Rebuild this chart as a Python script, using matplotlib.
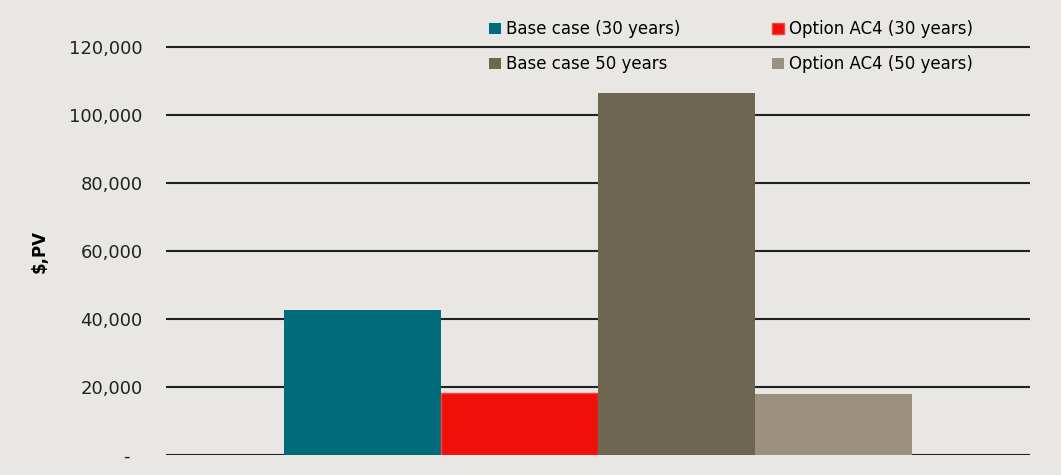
import matplotlib.pyplot as plt
from matplotlib.ticker import FuncFormatter

plt.rcParams['font.family'] = ['DejaVu Sans']

series = ['Base case (30 years)', 'Option AC4 (30 years)',
          'Base case 50 years', 'Option AC4 (50 years)']
values = [42600, 18200, 106500, 17900]
colors = ['#006B7A', '#F0100A', '#6E6650', '#9C917E']
edges = ['#006B7A', '#FF4040', '#6E6650', '#9C917E']

bg = '#E8E7E3'
fig = plt.figure(figsize=(10.61, 4.75), dpi=100, facecolor=bg)
ax = fig.add_axes([166 / 1061, 20 / 475, 864 / 1061, 435 / 475], facecolor=bg)

width = 0.2
bars = []
for i, (name, v) in enumerate(zip(series, values)):
    x = (i - 1.5) * width
    b = ax.bar(x, v, width=width, color=colors[i], edgecolor=edges[i],
               linewidth=1.0 if i == 1 else 0, label=name, zorder=3)
    bars.append(b)

ax.set_xlim(-0.55, 0.55)
ax.set_ylim(0, 128000)
ax.set_yticks(range(0, 120001, 20000))
ax.yaxis.set_major_formatter(FuncFormatter(lambda v, p: '-  ' if v == 0 else f'{int(v):,}'))
ax.set_xticks([])
ax.grid(axis='y', color='#222222', linewidth=1.5, zorder=1)
for s in ax.spines.values():
    s.set_visible(False)
ax.tick_params(axis='y', length=0, pad=17, labelsize=13, colors='#222222')
ax.set_ylabel('$,PV', fontsize=12, fontweight='bold')
ax.yaxis.set_label_coords(-0.136, 0.467)

# legend fills column by column, so order handles to read row by row
order = [0, 2, 1, 3]
ax.legend([bars[i] for i in order], [series[i] for i in order],
          ncol=2, loc='upper left', bbox_to_anchor=(0.357, 1.034), frameon=False,
          fontsize=12, handlelength=0.7, handleheight=0.7, handletextpad=0.3,
          columnspacing=5.5, labelspacing=1.03)

plt.savefig('out.png', dpi=100, facecolor=bg)
